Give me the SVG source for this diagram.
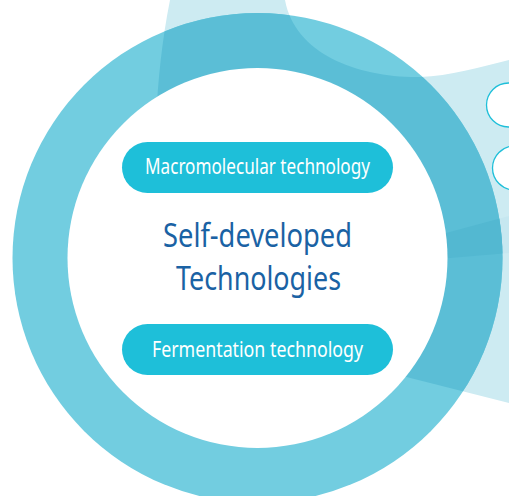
<svg xmlns="http://www.w3.org/2000/svg" xmlns:xlink="http://www.w3.org/1999/xlink" width="509" height="496" viewBox="0 0 509 496">
  <style>
    .pill { fill: #1EBFD9; }
    .pilltext { fill: #FFFFFF; font-family: "Noto Sans", "Open Sans", sans-serif; font-size: 22px; text-anchor: middle; }
    .title { fill: #1A62A4; font-family: "Noto Sans", "Open Sans", sans-serif; font-size: 33px; text-anchor: middle; }
    .side { fill: #FFFFFF; stroke: #1EBFD9; stroke-width: 1.3; }
  </style>
  <defs>
    <path id="lightShape" d="M170,0 L285,0 C295,55 360,78 420,77 C450,76 480,67 509,60 L509,403 L300,350 L152,200 L156,120 C158,80 162,40 170,0 Z"/>
    <polygon id="band" points="309,270 509,216 509,253"/>
    <circle id="outer" cx="257.5" cy="258" r="245"/>
    <clipPath id="clipLight"><use xlink:href="#lightShape"/></clipPath>
    <clipPath id="clipBand"><use xlink:href="#band"/></clipPath>
  </defs>

  <g id="background">
    <use xlink:href="#lightShape" fill="#CDEBF2"/>
    <use xlink:href="#band" fill="#C6E7F0"/>
  </g>

  <g id="ring">
    <use xlink:href="#outer" fill="#72CDE0"/>
    <use xlink:href="#outer" fill="#5BBED6" clip-path="url(#clipLight)"/>
    <use xlink:href="#outer" fill="#53B8D1" clip-path="url(#clipBand)"/>
    <circle cx="257.5" cy="258" r="190" fill="#FFFFFF"/>
  </g>

  <g id="side-items">
    <rect class="side" x="486.5" y="83" width="100" height="44" rx="22"/>
    <rect class="side" x="492.5" y="146" width="100" height="44" rx="22"/>
  </g>

  <g id="macromolecular">
    <rect class="pill" x="122" y="142" width="271" height="51" rx="25.5"/>
    <text class="pilltext" x="257.5" y="174" textLength="225" lengthAdjust="spacingAndGlyphs">Macromolecular technology</text>
  </g>

  <g id="title">
    <text class="title" x="257.5" y="247" textLength="189" lengthAdjust="spacingAndGlyphs">Self-developed</text>
    <text class="title" x="258.5" y="290" textLength="165" lengthAdjust="spacingAndGlyphs">Technologies</text>
  </g>

  <g id="fermentation">
    <rect class="pill" x="122" y="324" width="271" height="51" rx="25.5"/>
    <text class="pilltext" x="257.5" y="357" textLength="211" lengthAdjust="spacingAndGlyphs">Fermentation technology</text>
  </g>
</svg>
